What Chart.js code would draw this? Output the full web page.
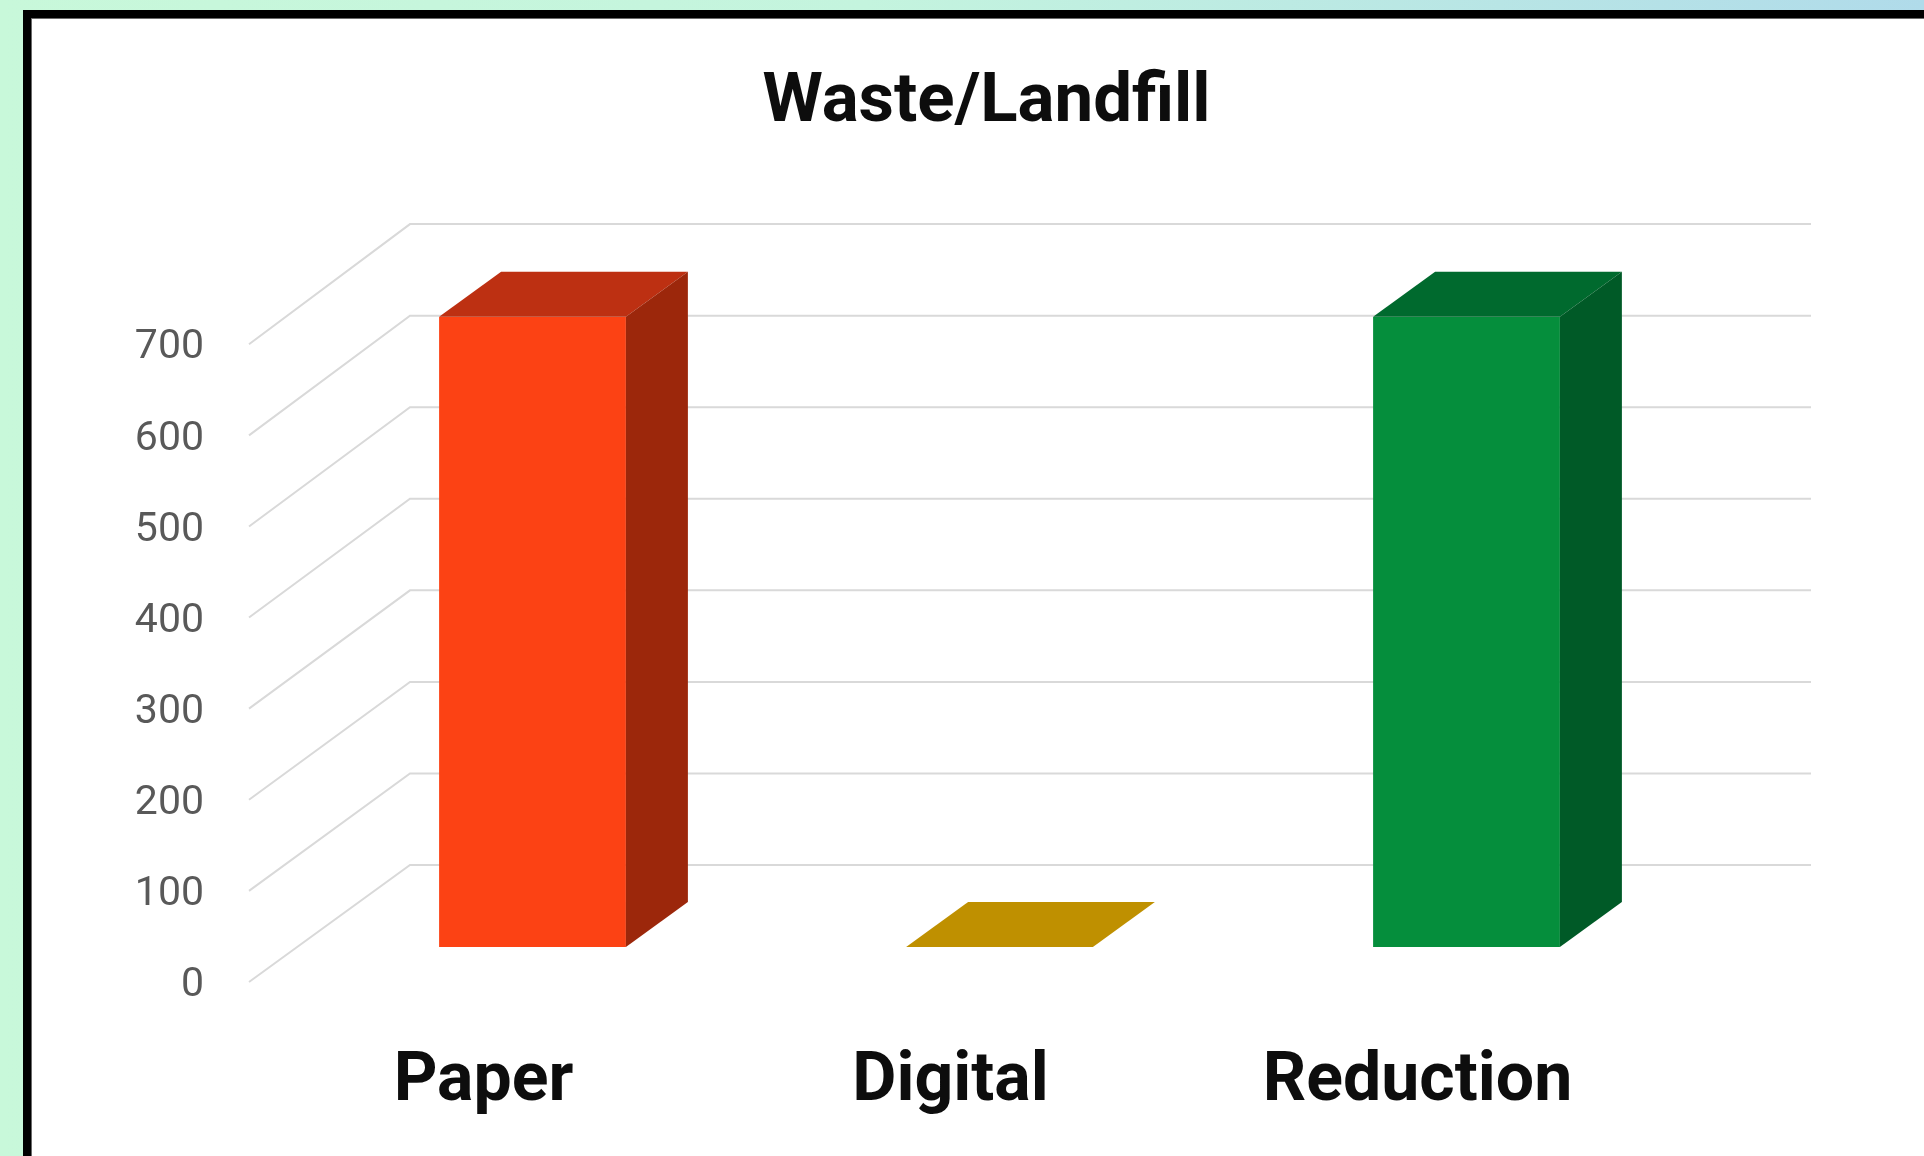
<!DOCTYPE html>
<html lang="en">
<head>
<meta charset="UTF-8">
<title>Waste/Landfill</title>
<script src="https://cdn.jsdelivr.net/npm/chart.js"></script>
<style>
    html, body {
        margin: 0;
        padding: 0;
        width: 1924px;
        height: 1156px;
        overflow: hidden;
    }
    body {
        background: linear-gradient(90deg, #c8f8da 0%, #c4f4de 45%, #b0dbea 100%);
        font-family: Roboto, sans-serif;
    }
    .panel {
        position: absolute;
        left: 23px;
        top: 10px;
        width: 1940px;
        height: 1200px;
        background: #fff;
        border-left: 8px solid #000;
        border-top: 8px solid #000;
        box-shadow: inset 1px 1px 0 #6b6b6b;
    }
    .chart-box {
        position: absolute;
        left: 0;
        top: 0;
        width: 1924px;
        height: 1156px;
    }
</style>
</head>
<body>
<div class="panel"></div>
<div class="chart-box">
    <canvas id="wasteChart"></canvas>
</div>

<script>
    const categories = ['Paper', 'Digital', 'Reduction'];
    const wasteValues = [700, 0, 700];
    const yTicks = [0, 100, 200, 300, 400, 500, 600, 700];

    const frontColors = ['#fc4214', '#ffc000', '#058e3c'];
    const topColors = ['#bd3012', '#bf9000', '#006a2e'];
    const sideColors = ['#9c270b', '#9e7700', '#005a27'];

    // fake 3D: back wall sits up/right of the bar plane, side wall runs out to the labels
    const wall = { dx: 111, dy: -82, stretch: 1.017 };
    const front = { x: -50, dy: 35, stretch: 1.012, labelGap: 95, labelDy: 4 };
    const depth = { dx: 62, dy: -45 };

    const wall3d = {
        id: 'wall3d',
        beforeDatasetsDraw(chart) {
            const { ctx, chartArea, scales: { y } } = chart;
            const base = y.getPixelForValue(0);
            ctx.save();
            ctx.lineWidth = 2;
            ctx.font = '41px Roboto';
            ctx.textAlign = 'right';
            ctx.textBaseline = 'middle';
            y.ticks.forEach(t => {
                const h = base - y.getPixelForValue(t.value);
                const back = base + wall.dy - h * wall.stretch;
                const near = base + front.dy - h * front.stretch;

                ctx.strokeStyle = '#d9d9d9';
                ctx.beginPath();
                ctx.moveTo(chartArea.left + front.x, near);
                ctx.lineTo(chartArea.left + wall.dx, back);
                ctx.lineTo(chartArea.right + wall.dx, back);
                ctx.stroke();

                // axis labels sit on the front edge of the side wall
                ctx.fillStyle = '#595959';
                ctx.fillText(t.label ?? String(t.value), chartArea.left - front.labelGap, near + front.labelDy);
            });
            ctx.restore();
        },
        afterDatasetsDraw(chart) {
            const { ctx } = chart;
            ctx.save();
            chart.getDatasetMeta(0).data.forEach((bar, i) => {
                const { x, y, base, width } = bar.getProps(['x', 'y', 'base', 'width'], true);
                const l = x - width / 2;
                const r = x + width / 2;

                // top face
                ctx.fillStyle = topColors[i];
                ctx.beginPath();
                ctx.moveTo(l, y);
                ctx.lineTo(l + depth.dx, y + depth.dy);
                ctx.lineTo(r + depth.dx, y + depth.dy);
                ctx.lineTo(r, y);
                ctx.closePath();
                ctx.fill();

                // right side face
                if (base - y > 0) {
                    ctx.fillStyle = sideColors[i];
                    ctx.beginPath();
                    ctx.moveTo(r, y);
                    ctx.lineTo(r + depth.dx, y + depth.dy);
                    ctx.lineTo(r + depth.dx, base + depth.dy);
                    ctx.lineTo(r, base);
                    ctx.closePath();
                    ctx.fill();
                }
            });
            ctx.restore();
        }
    };

    new Chart(document.getElementById('wasteChart'), {
        type: 'bar',
        data: {
            labels: categories,
            datasets: [{
                data: wasteValues,
                backgroundColor: frontColors,
                borderWidth: 0,
                barPercentage: 0.4,
                categoryPercentage: 1.0
            }]
        },
        options: {
            responsive: true,
            maintainAspectRatio: false,
            animation: false,
            layout: { padding: { left: 273, right: 224, top: 0, bottom: 0 } },
            plugins: {
                legend: { display: false },
                tooltip: { enabled: false },
                title: {
                    display: true,
                    text: 'Waste/Landfill',
                    color: '#0d0d0d',
                    font: { family: 'Roboto', size: 69, weight: 'bold' },
                    padding: { top: 62, bottom: 172 }
                }
            },
            scales: {
                x: {
                    grid: { display: false, drawTicks: false },
                    border: { display: false },
                    ticks: {
                        color: '#0d0d0d',
                        font: { family: 'Roboto', size: 68, weight: 'bold' },
                        padding: 95,
                        labelOffset: -49,
                        maxRotation: 0
                    },
                    afterFit: s => { s.height = 209; }
                },
                y: {
                    min: 0,
                    max: 700,
                    afterBuildTicks: s => { s.ticks = yTicks.map(v => ({ value: v })); },
                    grid: { display: false, drawTicks: false },
                    border: { display: false },
                    // labels are drawn by wall3d, the axis only keeps a narrow slot
                    ticks: { display: false },
                    afterFit: s => { s.width = 26; }
                }
            }
        },
        plugins: [wall3d]
    });
</script>
</body>
</html>
